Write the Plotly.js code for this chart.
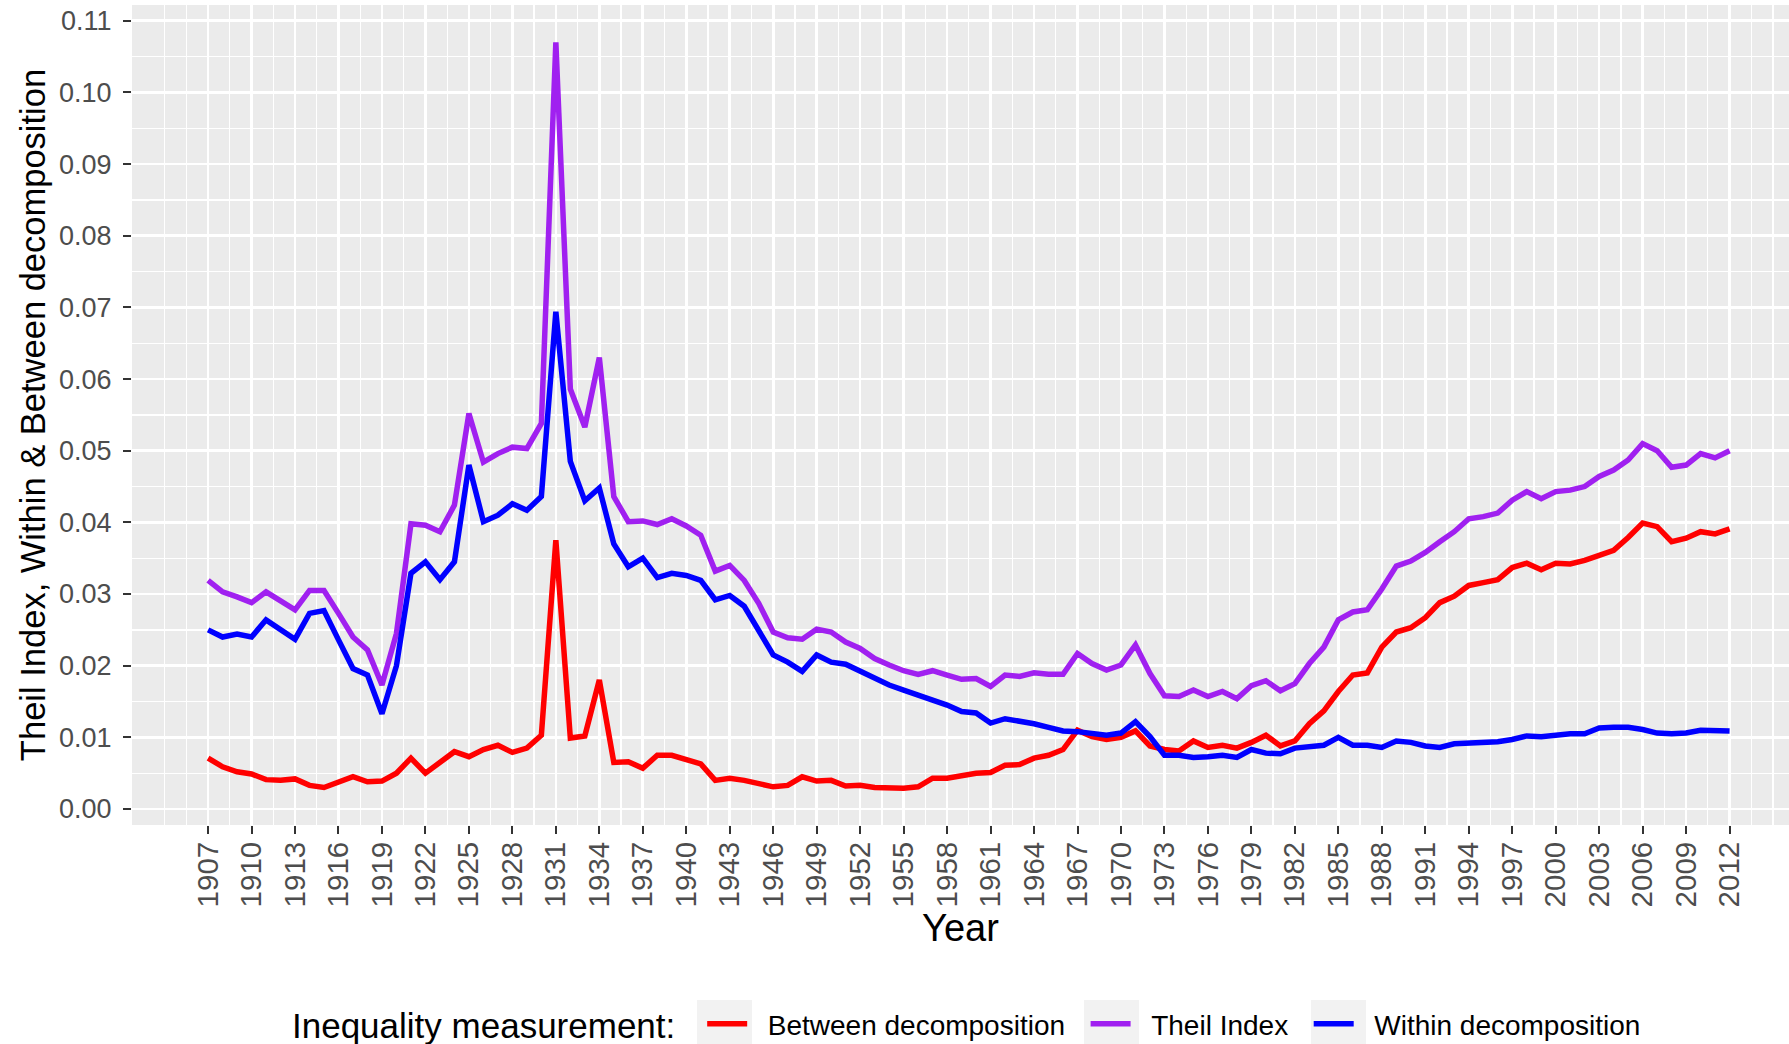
<!DOCTYPE html>
<html>
<head>
<meta charset="utf-8">
<script src="https://cdn.plot.ly/plotly-3.0.1.min.js"></script>
<style>html,body{margin:0;padding:0;background:#fff;}#chart{width:1789px;height:1044px;}</style>
</head>
<body>
<div id="chart"></div>
<script>
const years = [1907,1908,1909,1910,1911,1912,1913,1914,1915,1916,1917,1918,1919,1920,1921,1922,1923,1924,1925,1926,
1927,1928,1929,1930,1931,1932,1933,1934,1935,1936,1937,1938,1939,1940,1941,1942,1943,1944,1945,1946,
1947,1948,1949,1950,1951,1952,1953,1954,1955,1956,1957,1958,1959,1960,1961,1962,1963,1964,1965,1966,
1967,1968,1969,1970,1971,1972,1973,1974,1975,1976,1977,1978,1979,1980,1981,1982,1983,1984,1985,1986,
1987,1988,1989,1990,1991,1992,1993,1994,1995,1996,1997,1998,1999,2000,2001,2002,2003,2004,2005,2006,
2007,2008,2009,2010,2011,2012];

const betweenDecomp = [0.0071,0.0059,0.0052,0.0049,0.0041,0.0040,0.0042,0.0033,0.0030,0.0037,
0.0045,0.0038,0.0039,0.0050,0.0071,0.0050,0.0066,0.0080,0.0073,0.0083,
0.0089,0.0079,0.0085,0.0103,0.0375,0.0099,0.0102,0.0180,0.0065,0.0066,
0.0057,0.0075,0.0075,0.0069,0.0063,0.0040,0.0043,0.0040,0.0036,0.0031,
0.0033,0.0045,0.0039,0.0040,0.0032,0.0033,0.0030,0.0030,0.0029,0.0031,
0.0043,0.0043,0.0047,0.0050,0.0051,0.0061,0.0062,0.0071,0.0075,0.0083,
0.0110,0.0101,0.0097,0.0100,0.0109,0.0088,0.0083,0.0081,0.0095,0.0086,
0.0089,0.0085,0.0093,0.0103,0.0088,0.0095,0.0119,0.0137,0.0164,0.0187,
0.0190,0.0226,0.0247,0.0253,0.0267,0.0288,0.0297,0.0312,0.0316,0.0320,
0.0337,0.0343,0.0334,0.0343,0.0342,0.0347,0.0354,0.0361,0.0379,0.0399,
0.0394,0.0373,0.0378,0.0387,0.0384,0.0391];

const theilIndex = [0.0319,0.0303,0.0296,0.0288,0.0303,0.0291,0.0278,0.0305,0.0305,0.0273,
0.0240,0.0222,0.0173,0.0245,0.0398,0.0396,0.0387,0.0424,0.0552,0.0484,
0.0496,0.0505,0.0503,0.0538,0.1070,0.0586,0.0533,0.0630,0.0436,0.0401,
0.0402,0.0397,0.0405,0.0395,0.0382,0.0332,0.0340,0.0319,0.0287,0.0247,
0.0239,0.0237,0.0251,0.0247,0.0233,0.0224,0.0210,0.0201,0.0193,0.0188,
0.0193,0.0187,0.0181,0.0182,0.0171,0.0187,0.0185,0.0190,0.0188,0.0188,
0.0217,0.0203,0.0194,0.0201,0.0229,0.0189,0.0158,0.0157,0.0166,0.0157,
0.0164,0.0154,0.0172,0.0179,0.0165,0.0175,0.0203,0.0226,0.0264,0.0275,
0.0278,0.0307,0.0339,0.0346,0.0358,0.0373,0.0387,0.0405,0.0408,0.0413,
0.0431,0.0443,0.0433,0.0443,0.0445,0.0450,0.0464,0.0473,0.0487,0.0510,
0.0500,0.0477,0.0480,0.0496,0.0490,0.0500];

const withinDecomp = [0.0250,0.0240,0.0244,0.0240,0.0264,0.0251,0.0237,0.0273,0.0277,0.0236,
0.0196,0.0187,0.0133,0.0200,0.0329,0.0345,0.0320,0.0345,0.0480,0.0401,
0.0410,0.0426,0.0417,0.0436,0.0694,0.0485,0.0430,0.0448,0.0370,0.0338,
0.0350,0.0323,0.0329,0.0326,0.0319,0.0292,0.0298,0.0283,0.0250,0.0215,
0.0205,0.0192,0.0215,0.0205,0.0202,0.0192,0.0181,0.0173,0.0166,0.0158,
0.0152,0.0145,0.0136,0.0134,0.0120,0.0126,0.0123,0.0119,0.0114,0.0109,
0.0108,0.0105,0.0103,0.0106,0.0122,0.0101,0.0075,0.0075,0.0072,0.0073,
0.0075,0.0072,0.0083,0.0078,0.0077,0.0085,0.0087,0.0089,0.0100,0.0089,
0.0089,0.0086,0.0095,0.0093,0.0088,0.0086,0.0091,0.0092,0.0093,0.0094,
0.0097,0.0102,0.0101,0.0103,0.0105,0.0105,0.0113,0.0114,0.0114,0.0111,
0.0106,0.0105,0.0106,0.0110,0.0109,0.0109];

const seriesNames = ['Between decomposition','Theil Index','Within decomposition'];
const seriesColors = ['#FF0000','#A020F0','#0000FF'];
const legendTitle = 'Inequality measurement:';

// x tick labels every 3 years
const xTickVals = years.filter((y, i) => i % 3 === 0);
const xTickText = xTickVals.map(String);
// ggplot-style minor grid positions (midpoints + extended breaks)
const xMinorVals = [];
for (let v = xTickVals[0] - 3; v <= xTickVals[xTickVals.length - 1] + 3; v += 1.5) {
  if (!xTickVals.includes(v)) xMinorVals.push(v);
}

const font = 'Liberation Sans, Arial, Helvetica, sans-serif';
const seriesData = [betweenDecomp, theilIndex, withinDecomp];
const traces = seriesData.map((vals, i) => ({
  type: 'scatter', mode: 'lines', x: years, y: vals,
  name: '\u00a0\u00a0' + seriesNames[i] + '\u00a0\u00a0',
  line: {color: seriesColors[i], width: 5.5}
}));

// plot area geometry in page pixels (for legend decorations)
const M = {l: 132, r: 0, t: 5, b: 219};
const W = 1789, H = 1044;
const pw = W - M.l - M.r, ph = H - M.t - M.b;
const px2x = p => (p - M.l) / pw;
const px2y = p => (H - M.b - p) / ph;
const keyBoxes = [[697, 752], [1084, 1139], [1311, 1366]].map(([a, b]) => ({
  type: 'rect', xref: 'paper', yref: 'paper', layer: 'below',
  x0: px2x(a), x1: px2x(b), y0: px2y(1000), y1: px2y(1050),
  fillcolor: '#F2F2F2', line: {width: 0}
}));

const layout = {
  width: W, height: H,
  paper_bgcolor: '#FFFFFF', plot_bgcolor: '#EBEBEB',
  margin: M,
  font: {family: font, color: '#000000'},
  showlegend: true,
  shapes: keyBoxes,
  annotations: [{
    text: legendTitle, xref: 'paper', yref: 'paper', x: px2x(290), y: px2y(1025),
    xanchor: 'left', yanchor: 'middle', showarrow: false,
    font: {size: 35, color: '#000000', family: font}
  }],
  xaxis: {
    range: [1901.75, 2016.1], tickmode: 'array', tickvals: xTickVals, ticktext: xTickText,
    tickangle: -90, ticks: 'outside', ticklen: 8, tickwidth: 2, tickcolor: '#333333',
    tickfont: {size: 29.5, color: '#4D4D4D', family: font},
    showgrid: true, gridcolor: '#FFFFFF', gridwidth: 2.6, zeroline: false, showline: false,
    minor: {tickmode: 'array', tickvals: xMinorVals, showgrid: true, gridcolor: '#FFFFFF', gridwidth: 1.3, ticklen: 0},
    title: {text: 'Year', font: {size: 38, color: '#000000', family: font}, standoff: 3},
    automargin: false, ticklabelstandoff: -4
  },
  yaxis: {
    range: [-0.00223, 0.1122], tickmode: 'linear', tick0: 0, dtick: 0.01, tickformat: '.2f',
    ticks: 'outside', ticklen: 8, tickwidth: 2, tickcolor: '#333333',
    tickfont: {size: 27, color: '#4D4D4D', family: font},
    showgrid: true, gridcolor: '#FFFFFF', gridwidth: 2.6, zeroline: false, showline: false,
    minor: {dtick: 0.005, showgrid: true, gridcolor: '#FFFFFF', gridwidth: 1.3, ticklen: 0},
    title: {text: 'Theil Index, Within &amp; Between decomposition', font: {size: 34.5, color: '#000000', family: font}, standoff: 2},
    automargin: false, ticklabelstandoff: 6
  },
  legend: {
    orientation: 'h', xref: 'container', yref: 'container',
    x: 0.3925, xanchor: 'left', y: 0.019, yanchor: 'middle',
    font: {size: 28, color: '#000000', family: font},
    bgcolor: 'rgba(0,0,0,0)', itemwidth: 40, tracegroupgap: 0
  }
};

Plotly.newPlot('chart', traces, layout, {displayModeBar: false, staticPlot: true});
</script>
</body>
</html>
